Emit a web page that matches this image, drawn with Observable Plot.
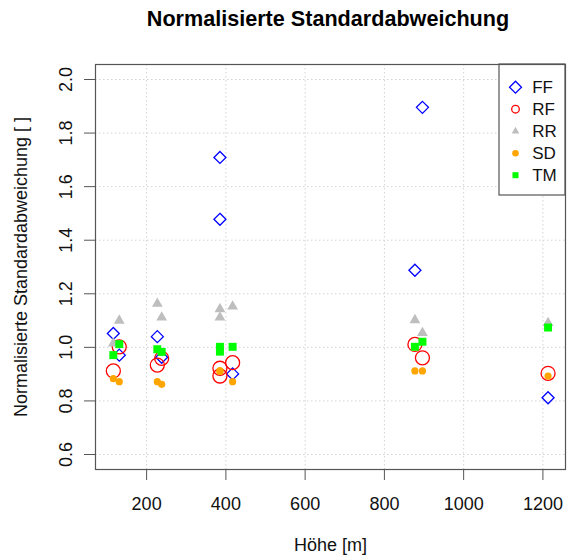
<!DOCTYPE html>
<html>
<head>
<meta charset="utf-8">
<script src="https://cdn.jsdelivr.net/npm/d3@7"></script>
<script src="https://cdn.jsdelivr.net/npm/@observablehq/plot@0.6"></script>
<style>
  body { margin: 0; background: white; font-family: "Liberation Sans", Arial, Helvetica, sans-serif; }
  #title { width: 470px; margin-left: 93px; height: 40px; line-height: 38px; text-align: center;
           font-weight: bold; font-size: 21.6px; color: #000; }
</style>
</head>
<body>
<div id="title">Normalisierte Standardabweichung</div>
<div id="chart"></div>
<script>
// Höhe der Stationen [m]
const hoehe = [116, 131, 227, 238, 385, 385, 417, 877, 896, 1213];
// Normalisierte Standardabweichung je Reihe
const FF = [1.052, 0.971, 1.040, 0.963, 1.709, 1.478, 0.901, 1.288, 1.896, 0.812];
const RF = [0.912, 1.002, 0.934, 0.959, 0.922, 0.893, 0.943, 1.011, 0.961, 0.903];
const RR = [1.015, 1.100, 1.163, 1.112, 1.143, 1.112, 1.153, 1.102, 1.054, 1.091];
const SD = [0.883, 0.872, 0.872, 0.862, 0.913, 0.910, 0.872, 0.912, 0.912, 0.893];
const TM = [0.971, 1.012, 0.993, 0.983, 1.002, 0.984, 1.002, 1.002, 1.021, 1.074];
const serien = ["FF", "RF", "RR", "SD", "TM"];
const xTicks = [200, 400, 600, 800, 1000, 1200];
const yTicks = [0.6, 0.8, 1.0, 1.2, 1.4, 1.6, 1.8, 2.0];
const xTitel = "Höhe [m]";
const yTitel = "Normalisierte Standardabweichung [ ]";

const werte = {FF, RF, RR, SD, TM};
const rows = serien.flatMap(s => hoehe.map((h, i) => ({hoehe: h, serie: s, wert: werte[s][i]})));

const style = {
  FF: {symbol: "diamond2", stroke: "#0000ff", fill: "none", r: 5.4, rl: 5.4, strokeWidth: 1.3},
  RF: {symbol: "circle", stroke: "#ff0000", fill: "none", r: 7, rl: 3.8, strokeWidth: 1.3},
  RR: {symbol: "triangle", stroke: "none", fill: "#bebebe", r: 4, rl: 2.8},
  SD: {symbol: "circle", stroke: "none", fill: "#ffa500", r: 3.6, rl: 3.3},
  TM: {symbol: "square", stroke: "none", fill: "#00ff00", r: 4.5, rl: 3.4}
};

const frameColor = "#555";
const pointMarks = serien.map(s => Plot.dot(rows.filter(d => d.serie === s), {
  x: "hoehe", y: "wert", symbol: () => style[s].symbol, r: style[s].r,
  stroke: style[s].stroke, fill: style[s].fill, strokeWidth: style[s].strokeWidth ?? 1
}));

const legendMarks = serien.flatMap((s, i) => [
  Plot.dot([s], {frameAnchor: "top-right", dx: -50, dy: 22.7 + i * 22,
    symbol: () => style[s].symbol, r: style[s].rl, stroke: style[s].stroke, fill: style[s].fill,
    strokeWidth: style[s].strokeWidth ?? 1}),
  Plot.text([s], {frameAnchor: "top-right", dx: -33.3, dy: 22.7 + i * 22, text: d => d,
    textAnchor: "start", lineAnchor: "middle", fontSize: 17, fill: "#111"})
]);

const chart = Plot.plot({
  width: 567,
  height: 520,
  marginTop: 24,
  marginBottom: 91,
  marginLeft: 95,
  marginRight: 2,
  style: {fontFamily: "'Liberation Sans', Arial, Helvetica, sans-serif", fontSize: "18px", background: "white"},
  x: {domain: [71, 1257]},
  y: {domain: [0.544, 2.056]},
  symbol: {type: "identity"},
  marks: [
    Plot.gridX(xTicks, {stroke: "#d3d3d3", strokeOpacity: 1, strokeDasharray: "1.5,2.5"}),
    Plot.gridY(yTicks, {stroke: "#d3d3d3", strokeOpacity: 1, strokeDasharray: "1.5,2.5"}),
    ...pointMarks,
    Plot.rect([0], {insetLeft: 404, insetBottom: 274, fill: "white", stroke: frameColor, strokeWidth: 1.2}),
    ...legendMarks,
    Plot.frame({stroke: frameColor, strokeWidth: 1.2}),
    Plot.axisX(xTicks, {tickSize: 11, tickPadding: 16.5, label: null, stroke: frameColor, color: "#111", fontSize: 18,
      tickFormat: d => String(d)}),
    Plot.axisY(yTicks, {tickSize: 11, tickPadding: 13, tickRotate: -90, label: null, stroke: frameColor, color: "#111",
      fontSize: 18, tickFormat: d3.format(".1f")}),
    Plot.text([xTitel], {frameAnchor: "bottom", dy: 75.7, text: d => d, lineAnchor: "middle", fontSize: 18, fill: "#111"}),
    Plot.text([yTitel], {frameAnchor: "left", dx: -68.8, rotate: -90, text: d => d, textAnchor: "middle",
      lineAnchor: "bottom", fontSize: 18, fill: "#111"})
  ]
});
document.getElementById("chart").appendChild(chart);
</script>
</body>
</html>
